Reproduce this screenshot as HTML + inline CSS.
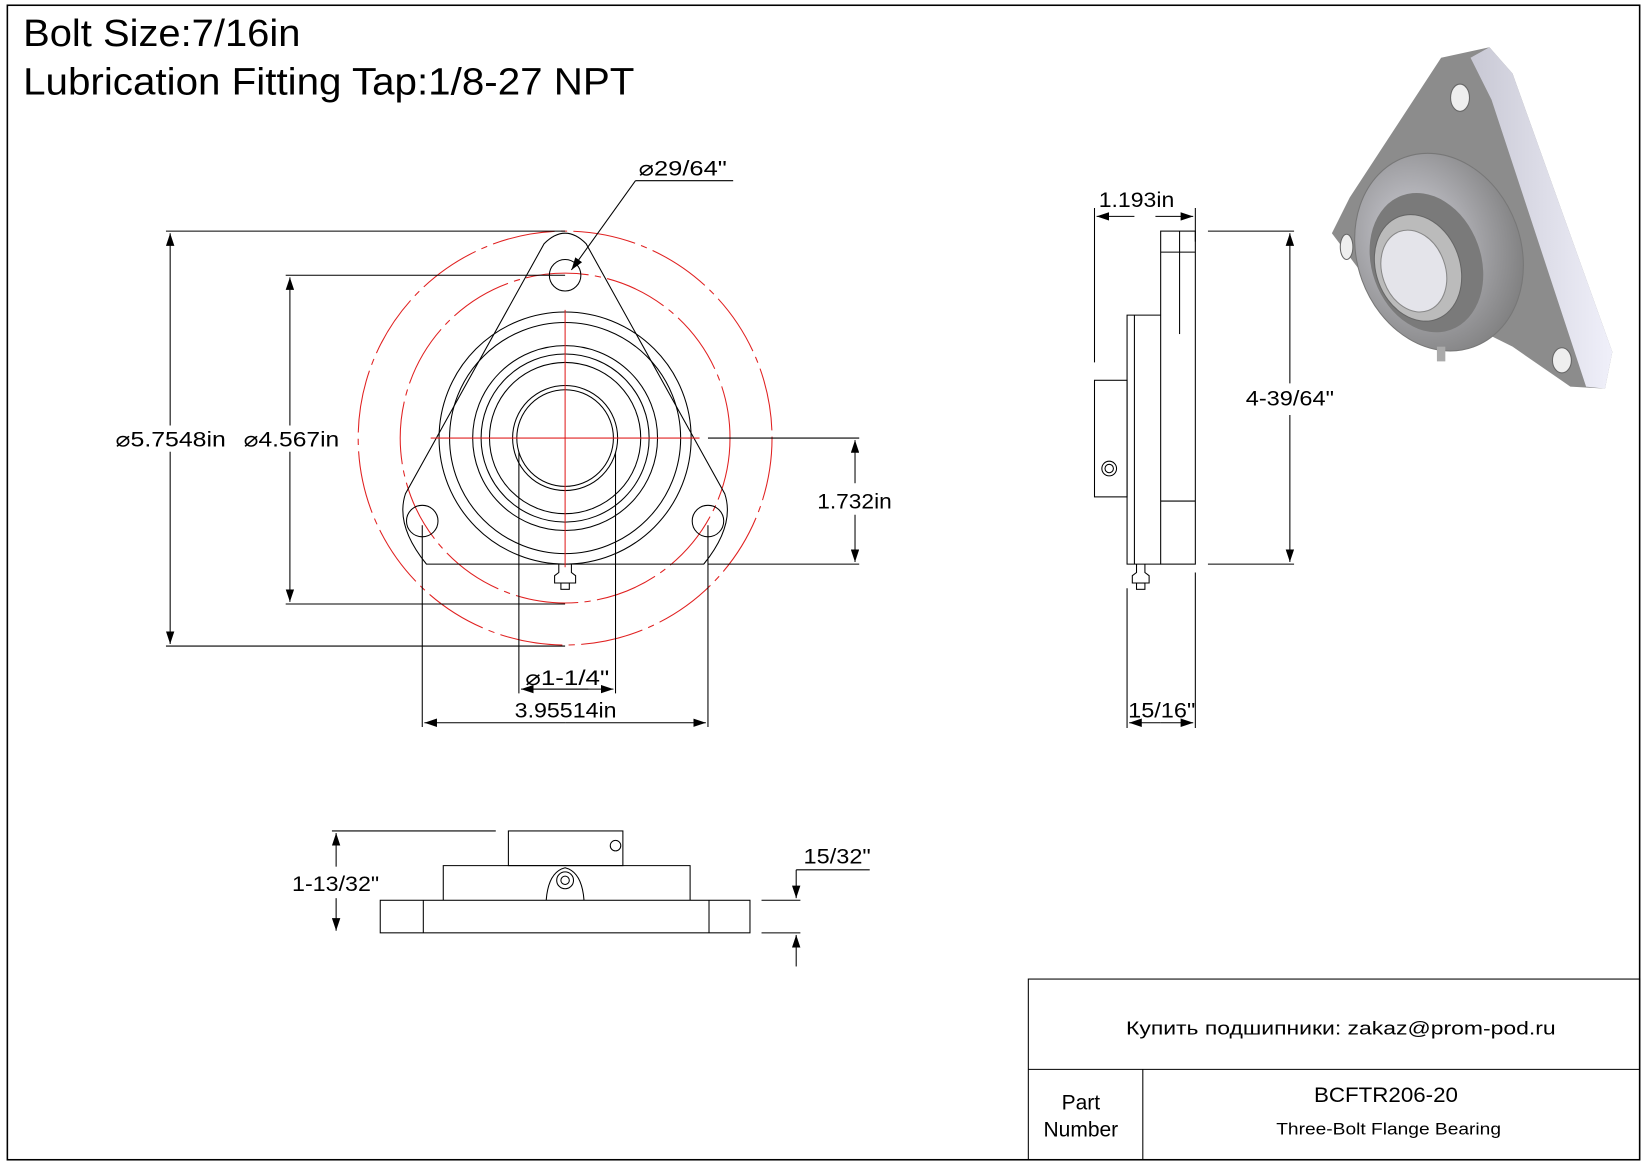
<!DOCTYPE html>
<html><head><meta charset="utf-8"><style>
html,body{margin:0;padding:0;background:#fff}
svg{display:block}
text{font-family:"Liberation Sans",sans-serif;fill:#000}
</style></head><body>
<svg width="1647" height="1165" viewBox="0 0 1568 1109" preserveAspectRatio="none" xmlns="http://www.w3.org/2000/svg">
<defs>
<marker id="a" markerWidth="12" markerHeight="8" refX="12" refY="4" orient="auto" markerUnits="userSpaceOnUse"><path d="M0,0 L12,4 L0,8 z" fill="#000"/></marker>
<linearGradient id="g1" x1="0" y1="0" x2="1" y2="0"><stop offset="0" stop-color="#c8c8d4"/><stop offset="1" stop-color="#f0f0fa"/></linearGradient>
<radialGradient id="g2" cx="0.4" cy="0.4" r="0.7"><stop offset="0" stop-color="#d0d0d8"/><stop offset="1" stop-color="#7a7a7a"/></radialGradient>
</defs>
<rect x="7" y="5" width="1554" height="1099" fill="none" stroke="#000" stroke-width="1.5"/>
<text x="22" y="44" font-size="36" textLength="264" lengthAdjust="spacingAndGlyphs">Bolt Size:7/16in</text>
<text x="22" y="90" font-size="36" textLength="582" lengthAdjust="spacingAndGlyphs">Lubrication Fitting Tap:1/8-27 NPT</text>

<!-- front view -->
<g fill="none" stroke="#000" stroke-width="1">
<circle cx="538" cy="417" r="197" stroke="#e02020" stroke-dasharray="60,6,6,6"/>
<circle cx="538" cy="417" r="157" stroke="#e02020" stroke-dasharray="60,6,6,6"/>
<path d="M518,232 Q538,212 558,232 L690,470 Q700,500 670,537 L406,537 Q376,500 386,470 Z"/>
<circle cx="538" cy="262" r="15"/>
<circle cx="402" cy="496" r="15"/>
<circle cx="674" cy="496" r="15"/>
<circle cx="538" cy="417" r="120"/>
<circle cx="538" cy="417" r="110"/>
<circle cx="538" cy="417" r="88"/>
<circle cx="538" cy="417" r="80"/>
<circle cx="538" cy="417" r="72"/>
<circle cx="538" cy="417" r="50"/>
<circle cx="538" cy="417" r="46"/>
<g stroke="#e02020"><line x1="538" y1="295" x2="538" y2="540"/><line x1="410" y1="417" x2="666" y2="417"/></g>
<path d="M532,537 L532,545 L528,548 L528,555 L548,555 L548,548 L544,545 L544,537"/>
<rect x="534" y="555" width="8" height="6"/>
<line x1="158" y1="220" x2="538" y2="220"/><line x1="158" y1="615" x2="538" y2="615"/>
<line x1="162" y1="405" x2="162" y2="222" marker-end="url(#a)"/><line x1="162" y1="430" x2="162" y2="613" marker-end="url(#a)"/>
<line x1="272" y1="262" x2="538" y2="262"/><line x1="272" y1="575" x2="538" y2="575"/>
<line x1="276" y1="405" x2="276" y2="264" marker-end="url(#a)"/><line x1="276" y1="430" x2="276" y2="573" marker-end="url(#a)"/>
<line x1="674" y1="417" x2="818" y2="417"/><line x1="674" y1="537" x2="818" y2="537"/>
<line x1="814" y1="460" x2="814" y2="419" marker-end="url(#a)"/><line x1="814" y1="490" x2="814" y2="535" marker-end="url(#a)"/>
<line x1="402" y1="500" x2="402" y2="692"/><line x1="674" y1="500" x2="674" y2="692"/>
<line x1="538" y1="688" x2="404" y2="688" marker-end="url(#a)"/><line x1="538" y1="688" x2="672" y2="688" marker-end="url(#a)"/>
<line x1="494" y1="430" x2="494" y2="660"/><line x1="586" y1="430" x2="586" y2="660"/>
<line x1="560" y1="656" x2="496" y2="656" marker-end="url(#a)"/><line x1="500" y1="656" x2="584" y2="656" marker-end="url(#a)"/>
<line x1="698" y1="172" x2="605" y2="172"/><line x1="605" y1="172" x2="544" y2="257" marker-end="url(#a)"/>
</g>
<text x="110" y="425" font-size="20" textLength="105" lengthAdjust="spacingAndGlyphs">⌀5.7548in</text>
<text x="232" y="425" font-size="20" textLength="91" lengthAdjust="spacingAndGlyphs">⌀4.567in</text>
<text x="778" y="484" font-size="20" textLength="71" lengthAdjust="spacingAndGlyphs">1.732in</text>
<text x="500" y="652" font-size="20" textLength="80" lengthAdjust="spacingAndGlyphs">⌀1-1/4"</text>
<text x="490" y="683" font-size="20" textLength="97" lengthAdjust="spacingAndGlyphs">3.95514in</text>
<text x="608" y="167" font-size="20" textLength="84" lengthAdjust="spacingAndGlyphs">⌀29/64"</text>

<!-- side view -->
<g fill="none" stroke="#000" stroke-width="1">
<rect x="1105" y="220" width="33" height="317"/>
<line x1="1105" y1="240" x2="1138" y2="240"/><line x1="1105" y1="477" x2="1138" y2="477"/>
<line x1="1123" y1="220" x2="1123" y2="318"/>
<path d="M1105,300 L1073,300 L1073,537 L1105,537"/>
<line x1="1080" y1="300" x2="1080" y2="537"/>
<rect x="1042" y="362" width="31" height="111"/>
<circle cx="1056" cy="446" r="7"/><circle cx="1056" cy="446" r="4"/>
<path d="M1082,537 L1082,545 L1078,548 L1078,555 L1094,555 L1094,548 L1090,545 L1090,537"/>
<rect x="1082" y="555" width="8" height="6"/>
<line x1="1042" y1="198" x2="1042" y2="345"/><line x1="1138" y1="198" x2="1138" y2="230"/>
<line x1="1080" y1="206" x2="1044" y2="206" marker-end="url(#a)"/><line x1="1100" y1="206" x2="1136" y2="206" marker-end="url(#a)"/>
<line x1="1150" y1="220" x2="1232" y2="220"/><line x1="1150" y1="537" x2="1232" y2="537"/>
<line x1="1228" y1="365" x2="1228" y2="222" marker-end="url(#a)"/><line x1="1228" y1="395" x2="1228" y2="535" marker-end="url(#a)"/>
<line x1="1073" y1="560" x2="1073" y2="693"/><line x1="1138" y1="545" x2="1138" y2="693"/>
<line x1="1105" y1="688" x2="1075" y2="688" marker-end="url(#a)"/><line x1="1105" y1="688" x2="1136" y2="688" marker-end="url(#a)"/>
</g>
<text x="1046" y="197" font-size="20" textLength="72" lengthAdjust="spacingAndGlyphs">1.193in</text>
<text x="1186" y="386" font-size="20" textLength="84" lengthAdjust="spacingAndGlyphs">4-39/64"</text>
<text x="1074" y="683" font-size="20" textLength="64" lengthAdjust="spacingAndGlyphs">15/16"</text>

<!-- bottom view -->
<g fill="none" stroke="#000" stroke-width="1">
<rect x="362" y="857" width="352" height="31"/>
<line x1="403" y1="857" x2="403" y2="888"/><line x1="675" y1="857" x2="675" y2="888"/>
<path d="M422,857 L422,824 L657,824 L657,857"/>
<rect x="484" y="791" width="109" height="33"/>
<circle cx="586" cy="805" r="5"/>
<path d="M520,857 Q522,830 538,826 Q554,830 556,857"/>
<circle cx="538" cy="838" r="8"/><circle cx="538" cy="838" r="4"/>
<line x1="316" y1="791" x2="472" y2="791"/>
<line x1="320" y1="825" x2="320" y2="793" marker-end="url(#a)"/><line x1="320" y1="855" x2="320" y2="886" marker-end="url(#a)"/>
<line x1="725" y1="857" x2="762" y2="857"/><line x1="725" y1="888" x2="762" y2="888"/>
<line x1="758" y1="828" x2="828" y2="828"/>
<line x1="758" y1="828" x2="758" y2="855" marker-end="url(#a)"/><line x1="758" y1="920" x2="758" y2="890" marker-end="url(#a)"/>
</g>
<text x="278" y="848" font-size="20" textLength="83" lengthAdjust="spacingAndGlyphs">1-13/32"</text>
<text x="765" y="822" font-size="20" textLength="64" lengthAdjust="spacingAndGlyphs">15/32"</text>

<!-- 3D -->
<g>
<path d="M1372,55 L1418,45 L1440,70 L1535,335 L1528,370 L1495,368 L1440,330 L1295,258 L1268,222 L1285,188 Z" fill="#8c8c8c"/>
<path d="M1418,45 L1440,70 L1535,335 L1528,370 L1510,368 L1420,95 L1400,55 Z" fill="url(#g1)"/>
<ellipse cx="1390" cy="93" rx="9" ry="13" fill="#eee" stroke="#666"/>
<ellipse cx="1487" cy="343" rx="9" ry="12" fill="#eee" stroke="#666"/>
<ellipse cx="1282" cy="235" rx="6" ry="12" fill="#eee" stroke="#666"/>
<ellipse cx="1370" cy="240" rx="78" ry="96" transform="rotate(-20 1370 240)" fill="url(#g2)" stroke="#777"/>
<ellipse cx="1358" cy="250" rx="52" ry="68" transform="rotate(-20 1358 250)" fill="#7a7a7a"/>
<ellipse cx="1350" cy="255" rx="40" ry="52" transform="rotate(-20 1350 255)" fill="#bbb" stroke="#666"/>
<ellipse cx="1346" cy="258" rx="30" ry="40" transform="rotate(-20 1346 258)" fill="#e4e4ea" stroke="#888"/>
<rect x="1368" y="330" width="8" height="14" fill="#aaa"/>
</g>

<!-- title block -->
<g fill="none" stroke="#000" stroke-width="1">
<rect x="979" y="932" width="582" height="172"/>
<line x1="979" y1="1018" x2="1561" y2="1018"/>
<line x1="1088" y1="1018" x2="1088" y2="1104"/>
</g>
<text x="1072" y="985" font-size="18" textLength="409" lengthAdjust="spacingAndGlyphs" font-family="DejaVu Sans">Купить подшипники: zakaz@prom-pod.ru</text>
<text x="1029" y="1056" font-size="20" text-anchor="middle">Part</text>
<text x="1029" y="1082" font-size="20" text-anchor="middle">Number</text>
<text x="1251" y="1049" font-size="20" textLength="137" lengthAdjust="spacingAndGlyphs">BCFTR206-20</text>
<text x="1215" y="1080" font-size="16" textLength="214" lengthAdjust="spacingAndGlyphs">Three-Bolt Flange Bearing</text>
</svg>
</body></html>
